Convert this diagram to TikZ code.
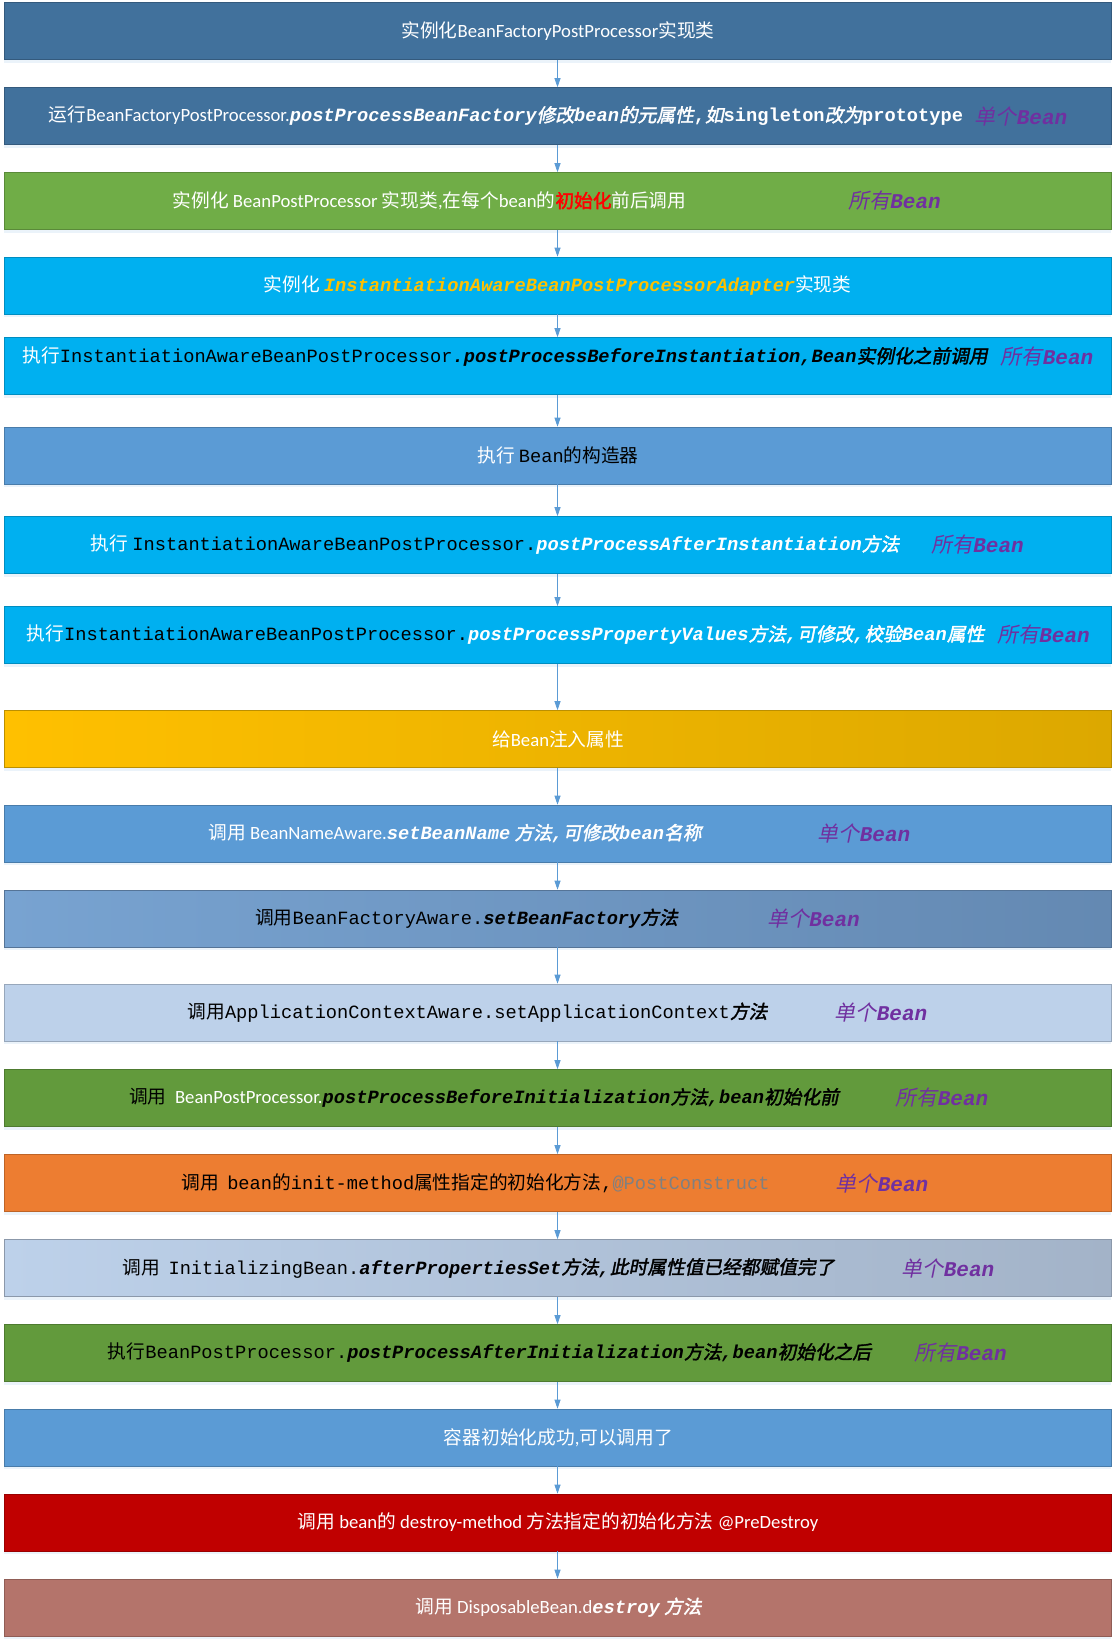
\documentclass[tikz,border=0pt]{standalone}
\usepackage{fontspec}
\setmainfont{Carlito}
\setmonofont{Liberation Mono}
\newfontfamily\zhfont{Noto Sans CJK SC}
\newfontfamily\zhitfont{Noto Sans CJK SC}[FakeSlant=0.2]
\newfontfamily\zhbffont{Noto Sans CJK SC}[FakeBold=2]
\newfontfamily\zhbifont{Noto Sans CJK SC}[FakeSlant=0.2,FakeBold=2]
\usetikzlibrary{arrows.meta,shadows}

\definecolor{steel}{HTML}{41719C}
\definecolor{leaf}{HTML}{70AD47}
\definecolor{sky}{HTML}{00B0F0}
\definecolor{azure}{HTML}{5B9BD5}
\definecolor{goldA}{HTML}{FFC000}
\definecolor{goldB}{HTML}{DCA800}
\definecolor{denimA}{HTML}{78A3D1}
\definecolor{denimB}{HTML}{6489B2}
\definecolor{mist}{HTML}{BDD1EA}
\definecolor{mistB}{HTML}{A3B3C8}
\definecolor{moss}{HTML}{629A3C}
\definecolor{tangerine}{HTML}{ED7D31}
\definecolor{crimson}{HTML}{C00000}
\definecolor{clay}{HTML}{B4746B}
\definecolor{violet}{HTML}{7030A0}
\definecolor{amber}{HTML}{FFC000}

% text helpers
\newcommand\zh[1]{{\zhfont #1}}
\newcommand\zhb[1]{{\zhbifont #1}}
\newcommand\cd[1]{{\ttfamily #1}}
\newcommand\cdb[1]{{\ttfamily\bfseries\itshape #1}}
\newcommand\cdu[1]{{\ttfamily\bfseries #1}}
\newcommand\allbean{{\color{violet}{\zhitfont 所有}{\ttfamily\bfseries\itshape Bean}}}
\newcommand\onebean{{\color{violet}{\zhitfont 单个}{\ttfamily\bfseries\itshape Bean}}}

\begin{document}
\begin{tikzpicture}[
    x=1pt, y=-1pt,
    stage/.style={rectangle, minimum width=1107pt, minimum height=57pt, inner sep=0pt,
        draw=#1!80!black, line width=0.6pt, fill=#1,
        drop shadow={shadow xshift=0pt, shadow yshift=-3pt, opacity=0.12, fill=azure}},
    shade stage/.style 2 args={rectangle, minimum width=1107pt, minimum height=57pt, inner sep=0pt,
        draw=#2!85!black, line width=0.6pt, left color=#1, right color=#2,
        drop shadow={shadow xshift=0pt, shadow yshift=-3pt, opacity=0.12, fill=azure}},
    txt/.style={inner sep=0pt, font=\fontsize{18.7}{22}\selectfont},
    tag/.style={inner sep=0pt, font=\fontsize{21}{24}\selectfont},
    flow/.style={draw=azure, line width=0.8pt, -{Triangle[length=9pt, width=6pt]}}
]
\useasboundingbox (0,0) rectangle (1116,1644);

% Stages
\node[stage=steel] (b1) at (557.5,31) {};
\node[stage=steel] (b2) at (557.5,116) {};
\node[stage=leaf] (b3) at (557.5,201) {};
\node[stage=sky] (b4) at (557.5,285.5) {};
\node[stage=sky] (b5) at (557.5,366) {};
\node[stage=azure] (b6) at (557.5,455.5) {};
\node[stage=sky] (b7) at (557.5,545) {};
\node[stage=sky] (b8) at (557.5,635) {};
\node[shade stage={goldA}{goldB}] (b9) at (557.5,739) {};
\node[stage=azure] (b10) at (557.5,833.5) {};
\node[shade stage={denimA}{denimB}] (b11) at (557.5,918.5) {};
\node[stage=mist] (b12) at (557.5,1012.5) {};
\node[stage=moss] (b13) at (557.5,1098) {};
\node[stage=tangerine] (b14) at (557.5,1183) {};
\node[shade stage={mist}{mistB}] (b15) at (557.5,1268) {};
\node[stage=moss] (b16) at (557.5,1353) {};
\node[stage=azure] (b17) at (557.5,1437.5) {};
\node[stage=crimson] (b18) at (557.5,1522.5) {};
\node[stage=clay] (b19) at (557.5,1607.5) {};

% Connectors
\foreach \i [evaluate=\i as \j using int(\i+1)] in {1,...,18}
    \draw[flow] (b\i.south) -- (b\j.north);

% Texts
\node[txt, text=white] (t1) at (558,31) {\zh{实例化}BeanFactoryPostProcessor\zh{实现类}};
\node[txt, text=white] (t2) at (506,116) {\zh{运行}BeanFactoryPostProcessor.\cdb{postProcessBeanFactory}\zhb{修改}\cdb{bean}\zhb{的元属性}\cdu{,}\zhb{如}\cdu{singleton}\zhb{改为}\cdu{prototype}};
\node[tag] (l2) at (1021,116) {\onebean};
\node[txt, text=white] (t3) at (429.5,201) {\zh{实例化} BeanPostProcessor \zh{实现类},\zh{在每个}bean\zh{的}{\color{red}\zhbffont 初始化}\zh{前后调用}};
\node[tag] (l3) at (894.5,201) {\allbean};
\node[txt, text=white] (t4) at (557.5,285.5) {\zh{实例化} {\color{amber}\cdb{InstantiationAwareBeanPostProcessorAdapter}}\zh{实现类}};
\node[txt, text=white] (t5) at (505,357) {\zh{执行}{\color{black}\cd{InstantiationAwareBeanPostProcessor}\cdb{.postProcessBeforeInstantiation,Bean}\zhb{实例化之前调用}}};
\node[tag] (l5) at (1047,357) {\allbean};
\node[txt, text=white] (t6) at (558,455.5) {\zh{执行} {\color{black}\cd{Bean}\zh{的构造器}}};
\node[txt, text=white] (t7) at (495,545) {\zh{执行} {\color{black}\cd{InstantiationAwareBeanPostProcessor.}}\cdb{postProcessAfterInstantiation}\zhb{方法}};
\node[tag] (l7) at (977.5,545) {\allbean};
\node[txt, text=white] (t8) at (505.5,635) {\zh{执行}{\color{black}\cd{InstantiationAwareBeanPostProcessor.}}\cdb{postProcessPropertyValues}\zhb{方法}\cdb{,}\zhb{可修改}\cdb{,}\zhb{校验}\cdb{Bean}\zhb{属性}};
\node[tag] (l8) at (1043.5,635) {\allbean};
\node[txt, text=white] (t9) at (558,739) {\zh{给}Bean\zh{注入属性}};
\node[txt, text=white] (t10) at (455,833.5) {\zh{调用} BeanNameAware.\cdb{setBeanName} \zhb{方法}\cdb{,}\zhb{可修改}\cdb{bean}\zhb{名称}};
\node[tag] (l10) at (864,833.5) {\onebean};
\node[txt, text=black] (t11) at (466.5,918.5) {\zh{调用}\cd{BeanFactoryAware.}\cdb{setBeanFactory}\zhb{方法}};
\node[tag] (l11) at (813.5,918.5) {\onebean};
\node[txt, text=black] (t12) at (477.5,1012.5) {\zh{调用}\cd{ApplicationContextAware.setApplicationContext}\zhb{方法}};
\node[tag] (l12) at (881,1012.5) {\onebean};
\node[txt, text=black] (t13) at (484,1098) {\zh{调用}\ \ {\color{white}BeanPostProcessor.}\cdb{postProcessBeforeInitialization}\zhb{方法}\cdb{,bean}\zhb{初始化前}};
\node[tag] (l13) at (942,1098) {\allbean};
\node[txt, text=black] (t14) at (475.5,1183) {\zh{调用}\ \ \cd{bean}\zh{的}\cd{init-method}\zh{属性指定的初始化方法}\cd{,}{\color{gray}\cd{@PostConstruct}}};
\node[tag] (l14) at (882,1183) {\onebean};
\node[txt, text=black] (t15) at (478.5,1268) {\zh{调用}\ \ \cd{InitializingBean.}\cdb{afterPropertiesSet}\zhb{方法}\cdb{,}\zhb{此时属性值已经都赋值完了}};
\node[tag] (l15) at (948,1268) {\onebean};
\node[txt, text=black] (t16) at (489.5,1353) {\zh{执行}\cd{BeanPostProcessor.}\cdb{postProcessAfterInitialization}\zhb{方法}\cdb{,bean}\zhb{初始化之后}};
\node[tag] (l16) at (960.5,1353) {\allbean};
\node[txt, text=white] (t17) at (558.5,1437.5) {\zh{容器初始化成功},\zh{可以调用了}};
\node[txt, text=white] (t18) at (558,1522.5) {\zh{调用} bean\zh{的} destroy-method \zh{方法指定的初始化方法} @PreDestroy};
\node[txt, text=white] (t19) at (558.5,1607.5) {\zh{调用} DisposableBean.d\cdb{estroy} \zhb{方法}};
\end{tikzpicture}
\end{document}
